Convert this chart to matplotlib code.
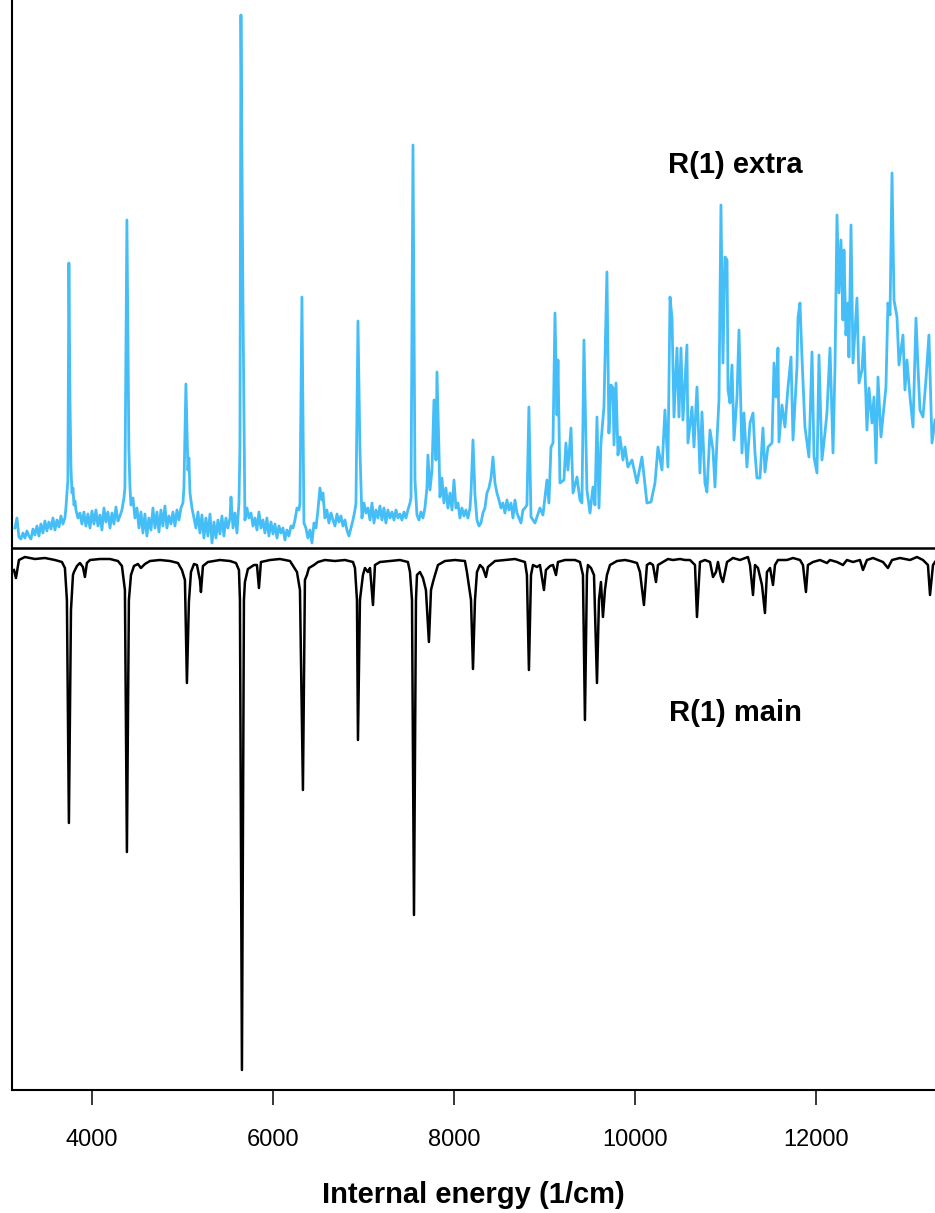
"""
R(1) extra / main spectra vs internal energy (mirror plot).
"""
import matplotlib
matplotlib.use('Agg')
import matplotlib.pyplot as plt

plt.rcParams['font.family'] = ['Liberation Sans', 'DejaVu Sans']

# ---------- R(1) extra (upper, blue) ----------
e_extra = [3149, 3171, 3193, 3215, 3237, 3259, 3281, 3303, 3326, 3348, 3370, 3392, 3414, 3436, 3458,
           3480, 3502, 3524, 3547, 3569, 3591, 3613, 3635, 3657, 3679, 3701, 3712, 3734, 3745, 3757,
           3768, 3779, 3790, 3801, 3812, 3823, 3845, 3867, 3889, 3911, 3933, 3955, 3978, 4000, 4022,
           4044, 4066, 4088, 4110, 4132, 4154, 4176, 4199, 4221, 4243, 4265, 4287, 4309, 4331, 4353,
           4364, 4386, 4408, 4420, 4431, 4453, 4475, 4497, 4519, 4541, 4563, 4585, 4607, 4629, 4652,
           4674, 4696, 4718, 4740, 4762, 4784, 4806, 4828, 4850, 4873, 4895, 4917, 4939, 4961, 4983,
           5005, 5016, 5038, 5060, 5071, 5083, 5105, 5127, 5149, 5171, 5193, 5215, 5237, 5259, 5281,
           5304, 5326, 5348, 5370, 5392, 5414, 5436, 5458, 5480, 5502, 5525, 5536, 5558, 5580, 5602,
           5624, 5635, 5646, 5668, 5690, 5712, 5734, 5757, 5779, 5801, 5823, 5845, 5867, 5889, 5911,
           5933, 5955, 5978, 6000, 6022, 6044, 6066, 6088, 6110, 6132, 6154, 6176, 6199, 6221, 6243,
           6265, 6287, 6298, 6320, 6342, 6364, 6386, 6409, 6431, 6453, 6475, 6497, 6519, 6541, 6552,
           6574, 6596, 6618, 6641, 6663, 6685, 6707, 6729, 6751, 6773, 6795, 6817, 6839, 6862, 6884,
           6906, 6917, 6939, 6961, 6983, 7005, 7027, 7049, 7072, 7094, 7116, 7138, 7160, 7182, 7204,
           7226, 7248, 7270, 7293, 7315, 7337, 7359, 7381, 7403, 7425, 7447, 7469, 7491, 7514, 7525,
           7547, 7569, 7591, 7613, 7635, 7657, 7679, 7701, 7712, 7735, 7757, 7779, 7801, 7812, 7834,
           7845, 7867, 7889, 7911, 7933, 7956, 7978, 8000, 8022, 8044, 8066, 8088, 8110, 8132, 8154,
           8177, 8188, 8210, 8232, 8254, 8276, 8298, 8320, 8342, 8364, 8386, 8409, 8431, 8453, 8475,
           8497, 8519, 8541, 8563, 8585, 8607, 8630, 8652, 8674, 8696, 8718, 8740, 8762, 8784, 8806,
           8828, 8851,
           8895, 8950, 8983, 9027, 9049, 9072, 9094, 9116,
           9138, 9149, 9171, 9215, 9237, 9259, 9293, 9315, 9359, 9392, 9414, 9436, 9469, 9503, 9536,
           9558, 9580, 9602, 9624, 9657, 9690, 9712, 9735, 9757, 9768, 9790, 9812, 9834, 9867, 9889,
           9922, 9967, 10022, 10077, 10132, 10177, 10221, 10254, 10298, 10331, 10364, 10387, 10409,
           10431, 10464, 10486, 10508, 10530, 10574, 10585, 10630, 10652, 10685, 10718, 10740, 10773,
           10795, 10829, 10862, 10884, 10906, 10928, 10950, 10972, 10994, 11017, 11028, 11050, 11072,
           11094, 11127, 11149, 11182, 11204, 11237, 11271, 11304, 11326, 11348, 11381, 11414, 11436,
           11469, 11514, 11536, 11558, 11580, 11591, 11624, 11657, 11690, 11724, 11746, 11790, 11801,
           11823, 11845, 11878, 11922, 11956, 11978, 12011, 12033, 12066, 12099, 12121, 12155, 12188,
           12210, 12232, 12254, 12276, 12298, 12309, 12331, 12353, 12364, 12387, 12409, 12453, 12475,
           12508, 12530, 12563, 12585, 12619, 12641, 12663, 12685, 12718, 12740, 12773, 12795, 12818,
           12840, 12862, 12895, 12917, 12961, 12983, 13005, 13039, 13072, 13105, 13127, 13149, 13182,
           13215, 13248, 13282, 13315]
i_extra = [20, 30, 11, 9, 15, 10, 17, 12, 9, 19, 13, 22, 12, 24, 15,
           27, 17, 26, 19, 30, 18, 28, 21, 32, 24, 30, 40, 68, 285, 148,
           80, 55, 60, 43, 47, 38, 30, 35, 24, 36, 22, 34, 20, 37, 24,
           38, 22, 33, 18, 40, 26, 36, 20, 35, 24, 41, 27, 32, 38, 50,
           60, 328, 98, 60, 43, 50, 30, 40, 20, 36, 15, 34, 12, 30, 18,
           40, 20, 36, 16, 38, 22, 42, 20, 32, 24, 36, 22, 38, 28, 40,
           45, 60, 164, 78, 90, 55, 40, 30, 20, 36, 15, 33, 10, 30, 12,
           34, 5, 26, 10, 28, 14, 32, 12, 30, 20, 30, 51, 20, 35, 15,
           45, 100, 533, 248, 28, 40, 30, 35, 22, 30, 18, 36, 20, 28, 15,
           30, 12, 26, 14, 24, 10, 22, 15, 20, 8, 18, 12, 22, 20, 28,
           40, 38, 45, 251, 25, 20, 10, 18, 5, 25, 20, 38, 60, 48, 55,
           30, 38, 25, 35, 28, 22, 34, 26, 32, 22, 28, 18, 12, 20, 28,
           38, 45, 227, 98, 30, 45, 35, 40, 28, 45, 25, 38, 30, 42, 28,
           40, 25, 38, 30, 36, 28, 38, 30, 34, 28, 36, 30, 38, 45, 50,
           403, 68, 33, 28, 36, 30, 40, 60, 93, 58, 78, 148, 88, 176, 98,
           51, 70, 45, 60, 40, 55, 38, 68, 40, 45, 30, 40, 32, 38, 30,
           40, 55, 108, 53, 28, 22, 25, 35, 40, 55, 60, 70, 91, 65, 55,
           48, 40, 45, 35, 48, 38, 45, 30, 48, 35, 30, 25, 38, 40, 43,
           141, 31,
           25, 40, 33, 68, 45, 101, 105, 235,
           133, 188, 65, 68, 105, 78, 120, 55, 71, 48, 45, 208, 58, 35, 61,
           43, 131, 40, 105, 141, 276, 115, 163, 160, 103, 165, 93, 111, 88, 101,
           81, 88, 65, 91, 45, 46, 65, 101, 78, 138, 81, 251, 230,
           131, 200, 131, 200, 128, 203, 105, 141, 101, 161, 75, 136, 65,
           56, 118, 98, 61, 108, 148, 343, 185, 291, 288, 158, 145, 183,
           108, 151, 218, 95, 135, 81, 125, 135, 95, 70, 70, 120, 76,
           101, 105, 185, 151, 200, 106, 143, 121, 160, 191, 108, 181, 230,
           245, 191, 121, 91, 196, 91, 75, 193, 88, 115, 135, 200, 95,
           181, 333, 255, 308, 228, 298, 213, 245, 191, 323, 185, 250, 165,
           178, 211, 118, 160, 125, 151, 85, 171, 111, 131, 161, 245, 233,
           375, 248, 231, 183, 213, 158, 188, 151, 121, 230, 181, 138, 131,
           168, 213, 105, 128]

# ---------- R(1) main (lower, black, plotted downward) ----------
e_main = [3138, 3160, 3193, 3259, 3370, 3480, 3591, 3668, 3701, 3723, 3745, 3768, 3790, 3801, 3834,
          3867, 3900, 3922, 3944, 3978, 4088, 4199, 4287, 4331, 4364, 4386, 4408, 4431, 4464, 4508,
          4541, 4585, 4641, 4751, 4862, 4950, 4994, 5027, 5049, 5071, 5094, 5127, 5160, 5193, 5204,
          5226, 5281, 5414, 5525, 5591, 5624, 5635, 5657, 5679, 5690, 5723, 5790, 5823, 5845, 5867,
          5967, 6077, 6188, 6265, 6298, 6331, 6353, 6375, 6397, 6453, 6497, 6574, 6685, 6795, 6884,
          6906, 6928, 6939, 6961, 6994, 7016, 7049, 7072, 7105, 7127, 7182, 7293, 7403, 7491, 7514,
          7536, 7558, 7580, 7591, 7624, 7657, 7690, 7723, 7746, 7768, 7790, 7823, 7900, 8011, 8121,
          8143, 8188, 8210, 8232, 8254, 8287, 8320, 8353, 8375, 8453, 8563, 8674, 8784, 8806, 8828,
          8851, 8873, 8917, 8950, 8994, 9016, 9061, 9094, 9127, 9149, 9226, 9337, 9392, 9425, 9447,
          9469, 9480, 9514, 9547, 9580, 9602, 9624, 9646, 9668, 9690, 9724, 9801, 9889, 9945, 10022,
          10055, 10099, 10132, 10166, 10199, 10232, 10254, 10309, 10364, 10420, 10497, 10552, 10608,
          10663, 10685, 10718, 10773, 10829, 10862, 10895, 10917, 10950, 10972, 11017, 11083, 11160,
          11248, 11271, 11304, 11326, 11359, 11403, 11436, 11458, 11492, 11525, 11547, 11580, 11679,
          11746, 11823, 11856, 11889, 11911, 11967, 12044, 12121, 12155, 12232, 12298, 12342, 12409,
          12486, 12519, 12563, 12630, 12740, 12795, 12840, 12928, 13039, 13116, 13182, 13237, 13260,
          13293, 13315]
i_main = [-22, -30, -12, -9, -11, -10, -12, -14, -20, -52, -275, -62, -27, -24, -18,
          -15, -19, -29, -15, -12, -11, -11, -13, -18, -42, -304, -52, -27, -18, -16,
          -20, -16, -13, -12, -13, -15, -22, -32, -135, -54, -24, -16, -17, -32, -44,
          -18, -14, -12, -13, -15, -22, -52, -522, -52, -34, -21, -17, -17, -40, -14,
          -12, -11, -13, -24, -42, -242, -32, -27, -20, -17, -14, -12, -13, -12, -14,
          -20, -52, -192, -52, -27, -20, -24, -20, -57, -17, -14, -13, -12, -14, -24,
          -52, -367, -52, -27, -24, -30, -42, -94, -42, -34, -27, -17, -13, -12, -13,
          -24, -52, -121, -52, -24, -17, -20, -29, -19, -13, -12, -11, -14, -27, -122,
          -27, -17, -19, -17, -42, -22, -18, -17, -27, -14, -12, -12, -14, -27, -172,
          -27, -17, -20, -27, -135, -52, -34, -69, -42, -27, -17, -13, -12, -13, -15,
          -24, -57, -17, -15, -17, -34, -17, -14, -11, -12, -11, -12, -12,
          -17, -69, -14, -12, -14, -29, -24, -14, -29, -34, -14, -10, -12,
          -9, -17, -47, -17, -20, -37, -65, -24, -20, -37, -17, -12, -12,
          -10, -12, -17, -44, -17, -14, -12, -15, -12, -14, -17, -12, -14,
          -12, -22, -12, -10, -14, -20, -12, -10, -12, -9, -12, -17, -47,
          -17, -14]

x_ticks = [4000, 6000, 8000, 10000, 12000]

fig = plt.figure(figsize=(9.35, 12.13), dpi=100)
ax = fig.add_axes([0.0128, 0.1014, 0.9872, 0.8986])

ax.plot(e_extra, i_extra, color='#45bdf7', lw=2.0)
ax.plot(e_main, i_main, color='black', lw=1.8)
ax.axhline(0, color='black', lw=1.8)

ax.text(11105, 383, 'R(1) extra', ha='center', va='center', fontsize=21, fontweight='bold')
ax.text(11105, -165, 'R(1) main', ha='center', va='center', fontsize=21, fontweight='bold')

ax.set_xlim(3116, 13315)
ax.set_ylim(-542, 548)
ax.set_xticks(x_ticks)
ax.set_yticks([])
ax.tick_params(axis='x', length=11, width=1.1, pad=17, labelsize=17)
ax.set_xlabel('Internal energy (1/cm)', fontsize=21, fontweight='bold', labelpad=22)

for s in ['top', 'right']:
    ax.spines[s].set_visible(False)
for s in ['left', 'bottom']:
    ax.spines[s].set_linewidth(1.5)

fig.savefig('out.png', dpi=100)
